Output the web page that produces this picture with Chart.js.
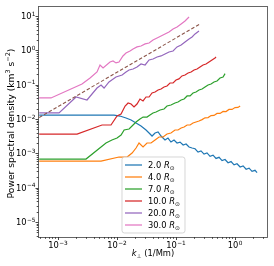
<!DOCTYPE html>
<html><head><meta charset="utf-8">
<script src="https://cdn.jsdelivr.net/npm/chart.js@4.4.0/dist/chart.umd.min.js"></script>
<style>html,body{margin:0;padding:0;background:#fff;overflow:hidden}canvas{display:block}</style>
</head><body><canvas id="c" width="274" height="266"></canvas>
<script>
// ---- data (k in 1/Mm, PSD in km^3 s^-2) ----
const seriesLabels = ['2.0', '4.0', '7.0', '10.0', '20.0', '30.0'];
const seriesColors = ['#1f77b4', '#ff7f0e', '#2ca02c', '#d62728', '#9467bd', '#e377c2'];
const refColor = '#8c564b';

const k_2 = [4.8e-4, 8.9e-3, 1.12e-2, 1.42e-2, 1.73e-2, 2.1e-2, 2.55e-2, 3.1e-2, 3.49e-2, 3.92e-2, 4.41e-2, 4.96e-2, 5.57e-2, 6.5e-2, 7.3e-2, 8.2e-2, 9.25e-2, 0.104, 0.117, 0.132, 0.148, 0.166, 0.187, 0.21, 0.236, 0.265, 0.298, 0.335, 0.377, 0.424, 0.476, 0.536, 0.602, 0.677, 0.761, 0.855, 0.962, 1.08, 1.22, 1.37, 1.54, 1.73, 1.94, 2.18, 2.36];
const p_2 = [1.3e-2, 1.3e-2, 1.22e-2, 1.07e-2, 9.35e-3, 7.64e-3, 6.25e-3, 4.78e-3, 3.91e-3, 3.19e-3, 3.91e-3, 4.18e-3, 3.19e-3, 2.44e-3, 2.79e-3, 2.13e-3, 2.44e-3, 2.0e-3, 2.13e-3, 1.75e-3, 1.87e-3, 1.53e-3, 1.43e-3, 1.36e-3, 1.09e-3, 1.18e-3, 9.5e-4, 1.03e-3, 8.2e-4, 8.85e-4, 7.1e-4, 7.65e-4, 6.13e-4, 6.6e-4, 5.33e-4, 5.75e-4, 4.6e-4, 4.96e-4, 4.0e-4, 4.3e-4, 3.45e-4, 3.7e-4, 2.99e-4, 3.2e-4, 2.75e-4];

const k_4 = [4.8e-4, 5.36e-3, 1.08e-2, 1.48e-2, 1.8e-2, 2.1e-2, 2.36e-2, 2.76e-2, 3.22e-2, 3.77e-2, 4.41e-2, 5.15e-2, 6.03e-2, 7.03e-2, 8.2e-2, 9.6e-2, 0.108, 0.122, 0.137, 0.154, 0.173, 0.194, 0.218, 0.245, 0.276, 0.31, 0.349, 0.392, 0.44, 0.495, 0.557, 0.627, 0.703, 0.79, 0.889, 1.0, 1.12, 1.22];
const p_4 = [5.9e-4, 5.9e-4, 7.8e-4, 7.8e-4, 1.02e-3, 1.43e-3, 2.0e-3, 1.53e-3, 2.0e-3, 2.0e-3, 2.44e-3, 2.99e-3, 2.99e-3, 3.65e-3, 3.91e-3, 4.78e-3, 4.78e-3, 5.47e-3, 5.85e-3, 6.68e-3, 6.68e-3, 7.64e-3, 8.18e-3, 8.75e-3, 9.6e-3, 1.08e-2, 1.1e-2, 1.26e-2, 1.27e-2, 1.45e-2, 1.45e-2, 1.66e-2, 1.65e-2, 1.9e-2, 1.9e-2, 2.15e-2, 2.18e-2, 2.4e-2];

const k_7 = [4.8e-4, 2.98e-3, 6.5e-3, 8.2e-3, 1.0e-2, 1.17e-2, 1.32e-2, 1.6e-2, 1.87e-2, 2.1e-2, 2.45e-2, 2.76e-2, 3.22e-2, 3.62e-2, 4.07e-2, 4.58e-2, 5.36e-2, 6.26e-2, 7.03e-2, 8.2e-2, 9.6e-2, 0.108, 0.122, 0.137, 0.154, 0.173, 0.194, 0.218, 0.245, 0.276, 0.31, 0.349, 0.392, 0.44, 0.495, 0.557, 0.627, 0.677];
const p_7 = [6.8e-4, 6.8e-4, 2.0e-3, 2.44e-3, 2.79e-3, 3.42e-3, 4.78e-3, 5.11e-3, 6.68e-3, 8.18e-3, 1.0e-2, 1.14e-2, 1.14e-2, 1.31e-2, 1.5e-2, 1.6e-2, 1.83e-2, 1.96e-2, 2.39e-2, 2.56e-2, 2.92e-2, 3.13e-2, 3.58e-2, 3.83e-2, 4.69e-2, 4.69e-2, 5.73e-2, 6.12e-2, 7.0e-2, 7.5e-2, 8.57e-2, 9.8e-2, 0.105, 0.12, 0.128, 0.157, 0.168, 0.21];

const k_10 = [4.8e-4, 2.1e-3, 5.57e-3, 7.9e-3, 1.0e-2, 1.17e-2, 1.37e-2, 1.54e-2, 1.73e-2, 1.94e-2, 2.18e-2, 2.45e-2, 2.76e-2, 3.1e-2, 3.49e-2, 3.92e-2, 4.41e-2, 4.96e-2, 5.57e-2, 6.26e-2, 7.03e-2, 7.9e-2, 8.9e-2, 0.1, 0.112, 0.126, 0.142, 0.16, 0.18, 0.202, 0.227, 0.255, 0.287, 0.322, 0.362, 0.407, 0.458, 0.476];
const p_10 = [3.65e-3, 3.65e-3, 6.68e-3, 6.68e-3, 1.22e-2, 1.4e-2, 2.39e-2, 2.92e-2, 2.73e-2, 2.24e-2, 2.73e-2, 3.83e-2, 3.35e-2, 4.38e-2, 4.38e-2, 5.73e-2, 6.12e-2, 7.0e-2, 7.5e-2, 8.57e-2, 9.16e-2, 0.112, 0.112, 0.137, 0.147, 0.18, 0.192, 0.219, 0.234, 0.268, 0.287, 0.328, 0.375, 0.401, 0.459, 0.525, 0.60, 0.642];

const k_20 = [4.8e-4, 1.04e-3, 2.02e-3, 3.1e-3, 4.58e-3, 5.36e-3, 6.03e-3, 7.31e-3, 9.6e-3, 1.22e-2, 1.42e-2, 1.6e-2, 1.87e-2, 2.18e-2, 2.55e-2, 2.99e-2, 3.49e-2, 4.07e-2, 4.77e-2, 5.57e-2, 6.5e-2, 7.6e-2, 8.9e-2, 0.104, 0.122, 0.142, 0.166, 0.187, 0.21, 0.245];
const p_20 = [1.5e-2, 1.5e-2, 4.38e-2, 3.58e-2, 8.0e-2, 9.8e-2, 8.0e-2, 0.12, 0.168, 0.192, 0.234, 0.268, 0.287, 0.328, 0.401, 0.375, 0.525, 0.561, 0.642, 0.687, 0.785, 0.898, 0.96, 1.26, 1.44, 1.76, 2.15, 2.46, 3.01, 3.68];

const k_30 = [4.8e-4, 7.6e-4, 2.55e-3, 3.49e-3, 4.58e-3, 5.15e-3, 5.8e-3, 7.6e-3, 8.55e-3, 9.6e-3, 1.08e-2, 1.26e-2, 1.42e-2, 1.66e-2, 1.87e-2, 2.18e-2, 2.55e-2, 2.99e-2, 3.49e-2, 4.07e-2, 4.77e-2, 5.57e-2, 6.5e-2, 7.6e-2, 8.9e-2, 0.104, 0.122, 0.142, 0.166];
const p_30 = [4.1e-2, 4.1e-2, 0.105, 0.157, 0.234, 0.375, 0.307, 0.459, 0.491, 0.43, 0.459, 0.687, 0.84, 0.96, 1.1, 1.26, 1.34, 1.54, 1.64, 2.01, 2.3, 2.63, 3.01, 3.44, 4.21, 4.81, 5.9, 7.2, 9.4];

// reference power law (dashed)
const k_ref = [4.8e-4, 0.25];
const p_ref = [1.1e-2, 5.75];

const xTicks = [1e-3, 1e-2, 1e-1, 1];
const xTickExps = ['\u22123', '\u22122', '\u22121', '0'];
const yTicks = [1e-5, 1e-4, 1e-3, 1e-2, 1e-1, 1, 10];
const yTickExps = ['\u22125', '\u22124', '\u22123', '\u22122', '\u22121', '0', '1'];
const minorMultipliers = [2, 3, 4, 5, 6, 7, 8, 9];
const xRange = [4.76e-4, 3.48];
const yRange = [3.65e-6, 19.6];

const kList = [k_2, k_4, k_7, k_10, k_20, k_30];
const pList = [p_2, p_4, p_7, p_10, p_20, p_30];

const FONT = '"DejaVu Sans", sans-serif';
const FS = 8.33;
const SS = FS * 0.7;
const YFS = 9.2;

const datasets = kList.map((ks, i) => ({
  label: seriesLabels[i],
  data: ks.map((k, j) => ({x: k, y: pList[i][j]})),
  borderColor: seriesColors[i],
  borderWidth: 1.2,
  pointRadius: 0,
  tension: 0,
  fill: false,
  order: -i
}));
datasets.push({
  label: 'ref',
  data: k_ref.map((k, j) => ({x: k, y: p_ref[j]})),
  borderColor: refColor,
  borderWidth: 1.1,
  borderDash: [3.5, 2],
  pointRadius: 0,
  fill: false,
  order: -6
});

function powLabel(ctx, exp, x, base, align) {
  ctx.font = FS + 'px ' + FONT;
  const wb = ctx.measureText('10').width;
  ctx.font = SS + 'px ' + FONT;
  const we = ctx.measureText(exp).width;
  const w = wb + we + 0.3;
  let sx = align === 'center' ? x - w / 2 : x - w;
  ctx.textAlign = 'left'; ctx.textBaseline = 'alphabetic';
  ctx.font = FS + 'px ' + FONT; ctx.fillText('10', sx, base);
  ctx.font = SS + 'px ' + FONT; ctx.fillText(exp, sx + wb + 0.3, base - 3.4);
}

const deco = {
  id: 'deco',
  afterDraw(chart) {
    const ctx = chart.ctx, a = chart.chartArea;
    const xs = chart.scales.x, ys = chart.scales.y;
    ctx.save();
    ctx.strokeStyle = '#555';
    ctx.lineWidth = 0.9;
    ctx.strokeRect(Math.round(a.left) - 0.5, Math.round(a.top) + 0.5, Math.round(a.right - a.left) + 1, Math.round(a.bottom - a.top));
    ctx.strokeStyle = '#333';
    ctx.lineWidth = 0.9;
    const tickAt = (v, major, axis) => {
      if (axis === 'x') {
        if (v < xs.min || v > xs.max) return;
        const px = Math.round(xs.getPixelForValue(v)) + 0.5;
        ctx.beginPath(); ctx.moveTo(px, a.bottom); ctx.lineTo(px, a.bottom + (major ? 3 : 1.8)); ctx.stroke();
      } else {
        if (v < ys.min || v > ys.max) return;
        const py = Math.round(ys.getPixelForValue(v)) + 0.5;
        ctx.beginPath(); ctx.moveTo(a.left - 0.5, py); ctx.lineTo(a.left - 0.5 - (major ? 3 : 1.8), py); ctx.stroke();
      }
    };
    const xDecades = [1e-4].concat(xTicks);
    xDecades.forEach(d => { tickAt(d, true, 'x'); minorMultipliers.forEach(m => tickAt(m * d, false, 'x')); });
    const yDecades = [1e-6].concat(yTicks);
    yDecades.forEach(d => { tickAt(d, true, 'y'); minorMultipliers.forEach(m => tickAt(m * d, false, 'y')); });

    ctx.fillStyle = '#000';
    xTicks.forEach((v, i) => powLabel(ctx, xTickExps[i], xs.getPixelForValue(v), a.bottom + 11, 'center'));
    yTicks.forEach((v, i) => powLabel(ctx, yTickExps[i], a.left - 3.5, ys.getPixelForValue(v) + 3, 'right'));

    // x title
    const cx = (a.left + a.right) / 2, by = 256;
    ctx.font = 'italic ' + FS + 'px ' + FONT;
    const wK = ctx.measureText('k').width;
    ctx.font = SS + 'px ' + FONT;
    const wP = ctx.measureText('\u22A5').width;
    ctx.font = FS + 'px ' + FONT;
    const rest = ' (1/Mm)';
    const wR = ctx.measureText(rest).width;
    let sx = cx - (wK + wP + wR) / 2;
    ctx.textBaseline = 'alphabetic'; ctx.textAlign = 'left';
    ctx.font = 'italic ' + FS + 'px ' + FONT; ctx.fillText('k', sx, by); sx += wK;
    ctx.font = SS + 'px ' + FONT; ctx.fillText('\u22A5', sx, by + 1.8); sx += wP;
    ctx.font = FS + 'px ' + FONT; ctx.fillText(rest, sx, by);

    // y title
    ctx.save();
    ctx.translate(13.5, (a.top + a.bottom) / 2 + 2);
    ctx.rotate(-Math.PI / 2);
    const YSS = YFS * 0.7;
    const parts = [['Power spectral density (km', 0], ['3', 1], [' s', 0], ['\u22122', 1], [')', 0]];
    let tw = 0;
    parts.forEach(p => { ctx.font = (p[1] ? YSS : YFS) + 'px ' + FONT; tw += ctx.measureText(p[0]).width; });
    let px0 = -tw / 2;
    ctx.textAlign = 'left';
    parts.forEach(p => {
      ctx.font = (p[1] ? YSS : YFS) + 'px ' + FONT;
      ctx.fillText(p[0], px0, p[1] ? -3.8 : 0);
      px0 += ctx.measureText(p[0]).width;
    });
    ctx.restore();

    // legend
    const bx = 122, bt = 157, bw = 63, bh = 76, r = 2.5;
    ctx.beginPath();
    ctx.moveTo(bx + r, bt); ctx.lineTo(bx + bw - r, bt); ctx.arcTo(bx + bw, bt, bx + bw, bt + r, r);
    ctx.lineTo(bx + bw, bt + bh - r); ctx.arcTo(bx + bw, bt + bh, bx + bw - r, bt + bh, r);
    ctx.lineTo(bx + r, bt + bh); ctx.arcTo(bx, bt + bh, bx, bt + bh - r, r);
    ctx.lineTo(bx, bt + r); ctx.arcTo(bx, bt, bx + r, bt, r); ctx.closePath();
    ctx.fillStyle = 'rgba(255,255,255,0.8)'; ctx.fill();
    ctx.strokeStyle = 'rgba(204,204,204,0.8)'; ctx.lineWidth = 1; ctx.stroke();
    seriesLabels.forEach((lab, i) => {
      const y = 165 + i * 12;
      ctx.strokeStyle = seriesColors[i]; ctx.lineWidth = 1.25;
      ctx.beginPath(); ctx.moveTo(125, y); ctx.lineTo(142, y); ctx.stroke();
      ctx.fillStyle = '#000';
      let tx = 148;
      const base = y + 3;
      ctx.font = FS + 'px ' + FONT;
      const t1 = lab + ' ';
      ctx.fillText(t1, tx, base); tx += ctx.measureText(t1).width;
      ctx.font = 'italic ' + FS + 'px ' + FONT;
      ctx.fillText('R', tx, base); tx += ctx.measureText('R').width;
      ctx.font = SS + 'px ' + FONT;
      ctx.fillText('\u2299', tx, base + 1.8);
    });
    ctx.restore();
  }
};

new Chart(document.getElementById('c'), {
  type: 'line',
  data: {datasets},
  options: {
    responsive: false,
    animation: false,
    devicePixelRatio: 1,
    layout: {padding: {left: 0, top: 6, right: 7, bottom: 0}},
    plugins: {legend: {display: false}, tooltip: {enabled: false}},
    scales: {
      x: {
        type: 'logarithmic', position: 'bottom', bounds: 'data',
        min: xRange[0], max: xRange[1],
        afterFit: s => { s.height = 29; },
        afterBuildTicks: s => { s.ticks = xTicks.map(v => ({value: v})); },
        grid: {display: false, drawTicks: false},
        border: {display: false},
        ticks: {display: false}
      },
      y: {
        type: 'logarithmic', position: 'left', bounds: 'data',
        min: yRange[0], max: yRange[1],
        afterFit: s => { s.width = 39; },
        afterBuildTicks: s => { s.ticks = yTicks.map(v => ({value: v})); },
        grid: {display: false, drawTicks: false},
        border: {display: false},
        ticks: {display: false}
      }
    }
  },
  plugins: [deco]
});
</script>
</body></html>
